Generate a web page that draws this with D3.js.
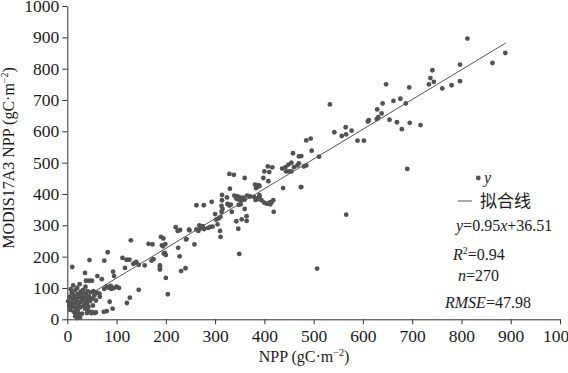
<!DOCTYPE html>
<html>
<head>
<meta charset="utf-8">
<script src="https://cdn.jsdelivr.net/npm/d3@7"></script>
<style>
  html, body { margin: 0; padding: 0; background: #fff; }
  svg { display: block; }
  text { font-family: "Liberation Serif", "Times New Roman", serif; fill: #1a1a1a; }
  .cjk { font-family: "Noto Sans CJK SC", sans-serif; }
</style>
</head>
<body>
<div id="chart"></div>
<script>
const width = 568;
const height = 373;

const xTicks = [0, 100, 200, 300, 400, 500, 600, 700, 800, 900, 1000];
const yTicks = [0, 100, 200, 300, 400, 500, 600, 700, 800, 900, 1000];

// fitted line y = slope * x + intercept, drawn over the observed range
const slope = 0.95;
const intercept = 36.51;
const fitRange = [0, 890];
const statLabels = ["=0.94", "=270", "=47.98"];

// [NPP, MODIS17A3 NPP] pairs
const samples = [
  // upper part
  [812, 896], [889, 850], [863, 818], [797, 813], [797, 760], [780, 747], [761, 737],
  [741, 795], [737, 770], [744, 758], [734, 750], [694, 740], [647, 750], [640, 689],
  [662, 697], [676, 704], [687, 689], [638, 657], [654, 637], [669, 629], [695, 627],
  [679, 607], [717, 620], [629, 670], [628, 639], [631, 645], [610, 631], [612, 636],
  [690, 480], [533, 686], [565, 613], [577, 602], [542, 597], [557, 585], [566, 590],
  [589, 570], [602, 570], [566, 334], [507, 162],
  // 400-520
  [485, 571], [494, 577], [496, 538], [511, 519], [458, 530], [475, 521], [470, 520],
  [467, 491], [485, 491], [475, 422], [480, 488], [470, 498], [460, 486], [449, 494],
  [455, 500], [443, 486], [444, 472], [450, 472], [455, 472], [436, 481], [400, 472],
  [407, 488], [416, 485], [410, 470], [398, 451], [408, 441], [438, 419], [474, 422],
  [381, 430], [385, 422], [390, 425], [383, 419], [388, 428], [371, 392],
  // 300-420
  [329, 464], [338, 461], [360, 451], [330, 417], [314, 397], [314, 380], [313, 362],
  [315, 352], [324, 389], [339, 395], [345, 392], [349, 390], [343, 385], [348, 382],
  [352, 378], [357, 388], [365, 395], [360, 382], [325, 368], [329, 363], [332, 366],
  [348, 365], [352, 367], [379, 391], [383, 386], [385, 383], [390, 392], [390, 396],
  [382, 381], [394, 380], [400, 372], [405, 369], [408, 369], [412, 374], [414, 372],
  [418, 380], [412, 367], [419, 343], [360, 352], [334, 343], [313, 343], [300, 336],
  [302, 318], [307, 322], [311, 327], [364, 329], [364, 314], [354, 319], [343, 313],
  [347, 289], [305, 303], [310, 282], [311, 263], [349, 209],
  // 200-300
  [262, 364], [277, 364], [293, 375], [290, 295], [286, 292], [295, 296], [266, 282],
  [270, 290], [275, 297], [268, 300], [278, 288], [248, 284], [220, 294], [224, 282],
  [258, 239], [241, 255], [225, 228], [228, 201], [262, 287], [272, 292], [247, 286],
  [242, 256], [229, 285], [231, 154], [240, 163], [200, 132], [204, 80],
  // 100-200
  [190, 263], [195, 258], [199, 240], [192, 236], [196, 210], [173, 239], [175, 192],
  [188, 172], [188, 165], [188, 159], [194, 233], [200, 205], [198, 212], [165, 241],
  [129, 252], [157, 172], [137, 180], [140, 183], [145, 174], [134, 177], [117, 164],
  [120, 190], [126, 190], [112, 196], [145, 94], [127, 69], [121, 52], [171, 187],
  // 0-100 outside the dense cluster
  [10, 167], [45, 189], [75, 187], [82, 214], [36, 148], [38, 123], [44, 123],
  [50, 123], [61, 138], [70, 128], [93, 152], [95, 138], [80, 104], [85, 100],
  [90, 97], [95, 100], [100, 104], [105, 100], [75, 97], [88, 107], [53, 90],
  [60, 85], [65, 82], [66, 72], [86, 56], [42, 28], [50, 24], [58, 22], [80, 26],
  [92, 34], [74, 24], [56, 20], [49, 19], [40, 20], [16, 10], [20, 4], [24, 14],
  [22, 18], [18, 22], [26, 6],
  // dense cluster near the origin
  [2, 58], [4, 44], [5, 72], [6, 30], [7, 96], [8, 52], [9, 84], [10, 40], [11, 64],
  [12, 108], [13, 24], [14, 76], [15, 50], [16, 92], [17, 36], [18, 66], [19, 58],
  [20, 100], [21, 28], [22, 80], [23, 46], [24, 70], [25, 112], [26, 38], [27, 88],
  [28, 56], [29, 74], [30, 18], [31, 62], [32, 94], [33, 44], [34, 82], [35, 68],
  [36, 34], [37, 104], [38, 54], [39, 78], [40, 48], [41, 90], [42, 64], [43, 40],
  [44, 72], [46, 58], [48, 86], [50, 66], [52, 44], [55, 76], [58, 60]
];

const svg = d3.select("#chart")
  .append("svg")
  .attr("width", width)
  .attr("height", height);

const x = d3.scaleLinear().domain([0, 1000]).range([67.3, 560]);
const y = d3.scaleLinear().domain([0, 1000]).range([319.3, 6]);

const axisColor = "#333";

const xAxis = svg.append("g")
  .attr("transform", `translate(0,${y(0)})`)
  .call(d3.axisBottom(x).tickValues(xTicks).tickFormat(d3.format("d"))
    .tickSize(5).tickSizeOuter(0).tickPadding(5));

const yAxis = svg.append("g")
  .attr("transform", `translate(${x(0)},0)`)
  .call(d3.axisLeft(y).tickValues(yTicks).tickFormat(d3.format("d"))
    .tickSize(5).tickSizeOuter(0).tickPadding(3));

[xAxis, yAxis].forEach(axis => {
  axis.attr("font-family", null).attr("font-size", null);
  axis.selectAll("path, line").attr("stroke", axisColor).attr("stroke-width", 1);
  axis.selectAll("text")
    .style("font-family", '"Liberation Serif", serif')
    .style("font-size", "17.5px")
    .attr("fill", "#1a1a1a");
});

// points
svg.append("g")
  .selectAll("circle")
  .data(samples)
  .join("circle")
  .attr("cx", d => x(d[0]))
  .attr("cy", d => y(d[1]))
  .attr("r", 2.4)
  .attr("fill", "#525252");

// fitted line
svg.append("line")
  .attr("x1", x(fitRange[0]))
  .attr("y1", y(slope * fitRange[0] + intercept))
  .attr("x2", x(fitRange[1]))
  .attr("y2", y(slope * fitRange[1] + intercept))
  .attr("stroke", "#555")
  .attr("stroke-width", 1);

// axis titles
const xTitle = svg.append("text")
  .attr("x", 304)
  .attr("y", 362)
  .attr("text-anchor", "middle")
  .style("font-size", "16px");
xTitle.append("tspan").text("NPP (gC·m");
xTitle.append("tspan").attr("dy", -6).style("font-size", "10px").text("−2");
xTitle.append("tspan").attr("dy", 6).text(")");

const yTitle = svg.append("text")
  .attr("transform", "translate(14,158) rotate(-90)")
  .attr("text-anchor", "middle")
  .style("font-size", "16px");
yTitle.append("tspan").text("MODIS17A3 NPP (gC·m");
yTitle.append("tspan").attr("dy", -6).style("font-size", "10px").text("−2");
yTitle.append("tspan").attr("dy", 6).text(")");

// legend
svg.append("circle").attr("cx", 478.3).attr("cy", 178).attr("r", 2.4).attr("fill", "#525252");
svg.append("text").attr("x", 484).attr("y", 183)
  .style("font-size", "16px").style("font-style", "italic").text("y");

svg.append("line")
  .attr("x1", 458).attr("x2", 472).attr("y1", 201).attr("y2", 201)
  .attr("stroke", "#555").attr("stroke-width", 1);
svg.append("text").attr("class", "cjk").attr("x", 480).attr("y", 207)
  .style("font-size", "17px").text("拟合线");

const eq = svg.append("text").attr("x", 456).attr("y", 231).style("font-size", "16px");
eq.append("tspan").style("font-style", "italic").text("y");
eq.append("tspan").text(`=${slope}`);
eq.append("tspan").style("font-style", "italic").text("x");
eq.append("tspan").text(`+${intercept}`);

const r2 = svg.append("text").attr("x", 453).attr("y", 260).style("font-size", "16px");
r2.append("tspan").style("font-style", "italic").text("R");
r2.append("tspan").attr("dy", -6).style("font-size", "10px").text("2");
r2.append("tspan").attr("dy", 6).text(statLabels[0]);

const nText = svg.append("text").attr("x", 458).attr("y", 281).style("font-size", "16px");
nText.append("tspan").style("font-style", "italic").text("n");
nText.append("tspan").text(statLabels[1]);

const rmse = svg.append("text").attr("x", 445).attr("y", 308).style("font-size", "16px");
rmse.append("tspan").style("font-style", "italic").text("RMSE");
rmse.append("tspan").text(statLabels[2]);
</script>
</body>
</html>
